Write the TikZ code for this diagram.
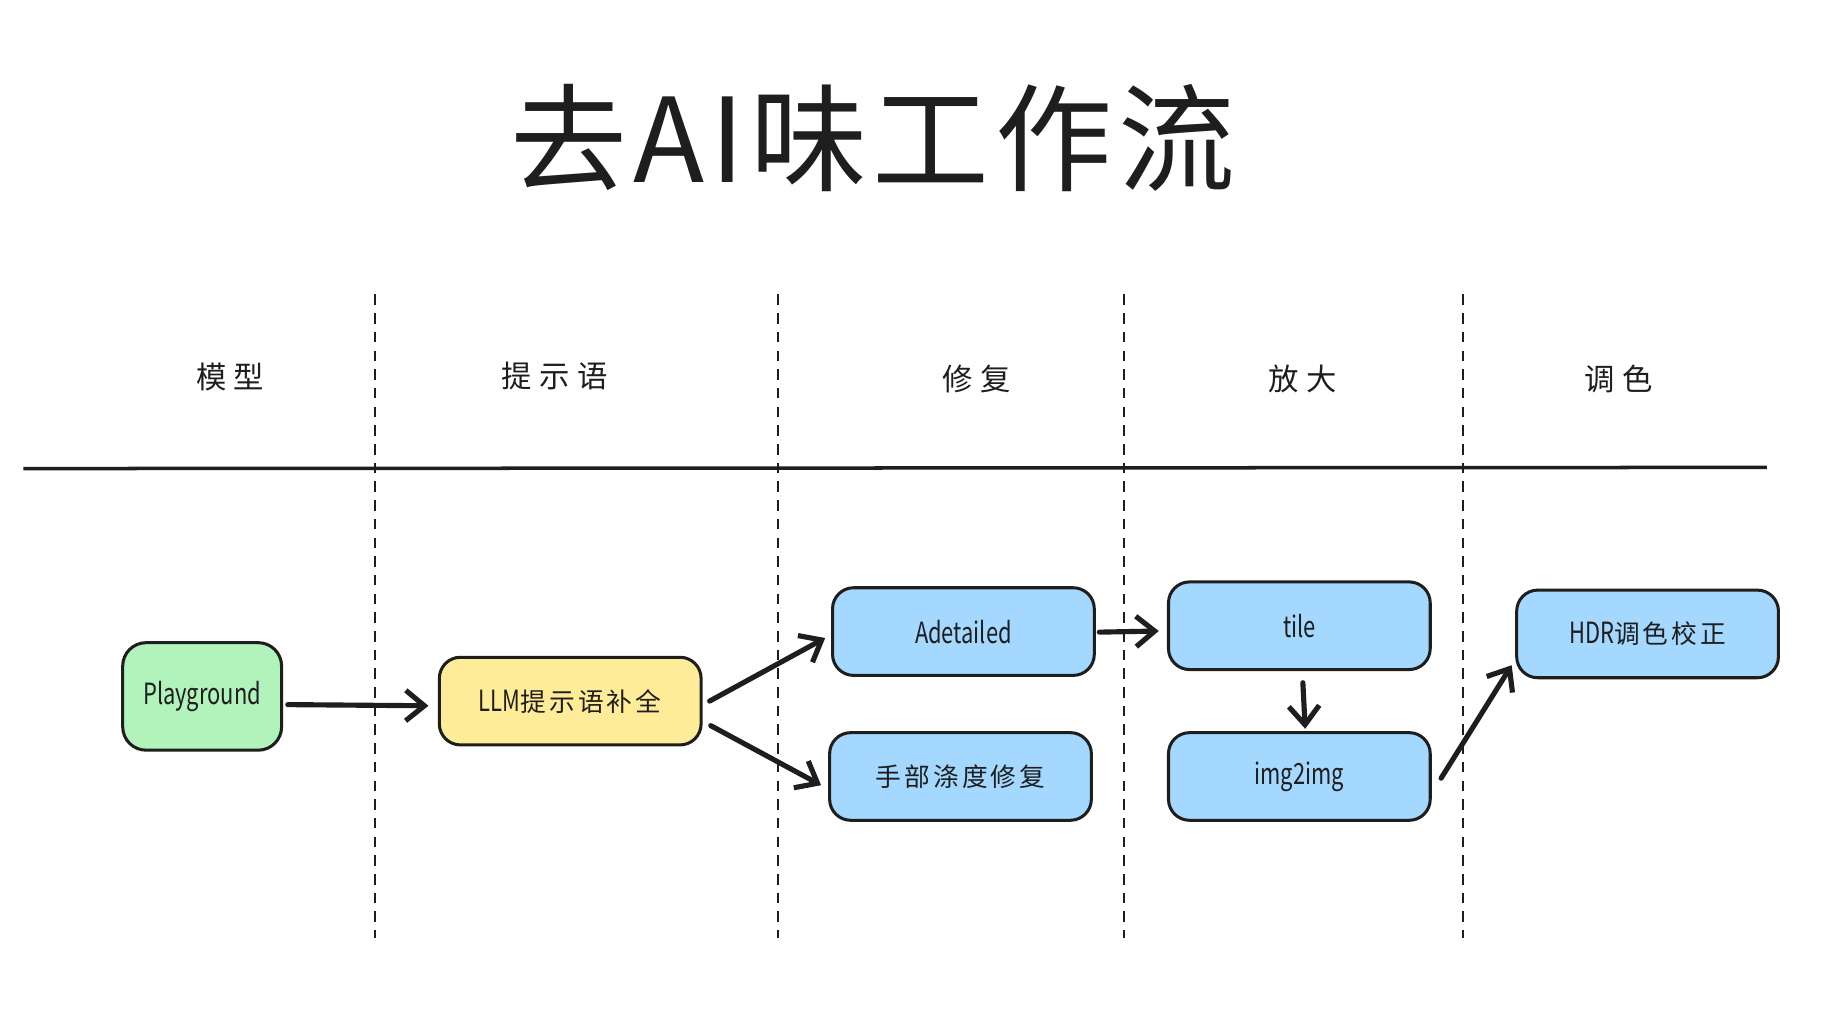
\documentclass[tikz,border=0pt]{standalone}
\usepackage{fontspec}
\usetikzlibrary{arrows.meta}
\newfontfamily\titlefont[LetterSpace=5]{Noto Sans CJK SC}
\newfontfamily\headfont[LetterSpace=25]{Noto Sans CJK SC}
\newfontfamily\cjkbox[LetterSpace=12]{Noto Sans CJK SC}
\newfontfamily\latbox[FakeStretch=0.75]{Noto Sans CJK SC}
\newcommand\LatT[1]{{\latbox\fontsize{12.5pt}{14pt}\selectfont #1}}
\newcommand\CjkT[1]{{\cjkbox\fontsize{11pt}{13pt}\selectfont #1}}
\definecolor{ink}{HTML}{1E1E1E}
\definecolor{fgreen}{HTML}{B2F2BB}
\definecolor{fyellow}{HTML}{FFEC99}
\definecolor{fblue}{HTML}{A5D8FF}
\begin{document}
\begin{tikzpicture}[x=0.5pt,y=-0.5pt,
  card/.style={draw=ink, line width=1.3pt, rounded corners=9pt, inner sep=0pt,
    minimum width=112pt, minimum height=37.5pt, text=ink},
  arr/.style={draw=ink, line width=2.2pt, line cap=round, line join=round,
    -{Straight Barb[length=8pt,width=13pt]}},
  head/.style={text=ink, font=\headfont\fontsize{13pt}{15pt}\selectfont},
  sep/.style={draw=ink, line width=1pt, dash pattern=on 4.5pt off 3.5pt}]
\useasboundingbox[fill=white] (0,0) rectangle (1567,868.6);

\node[text=ink, font=\titlefont\fontsize{50pt}{58pt}\selectfont] (title) at (747,118) {去AI味工作流};

\node[head] (h1) at (197,323) {模型};
\node[head] (h2) at (475,322) {提示语};
\node[head] (h3) at (836,324) {修复};
\node[head] (h4) at (1115,324) {放大};
\node[head] (h5) at (1385,324) {调色};

\draw[sep] (321,252) -- (321,803);
\draw[sep] (666,252) -- (666,803);
\draw[sep] (962,252) -- (962,803);
\draw[sep] (1252,252) -- (1252,803);

\draw[ink, line width=1.5pt] (20,401) -- (1512,400);

\node[card, fill=fgreen, minimum width=68pt, minimum height=46pt, rounded corners=10pt] (pg) at (173,596) {\LatT{Playground}};
\node[card, fill=fyellow] (llm) at (488,600) {\LatT{LLM}\CjkT{提示语补全}};
\node[card, fill=fblue] (ad) at (824.5,540.5) {\LatT{Adetailed}};
\node[card, fill=fblue] (hand) at (822,664.5) {\CjkT{手部涤度修复}};
\node[card, fill=fblue] (tile) at (1112,535.5) {\LatT{tile}};
\node[card, fill=fblue] (i2i) at (1112,664.5) {\LatT{img2img}};
\node[card, fill=fblue] (hdr) at (1410,542.5) {\LatT{HDR}\CjkT{调色校正}};

\draw[arr] ([shift={(4,7)}]pg.east) -- ([shift={(-8,4)}]llm.west);
\draw[arr] ([shift={(6,0)}]llm.east) -- ([shift={(-5,5.5)}]ad.west);
\draw[arr] ([shift={(7,21)}]llm.east) -- ([shift={(-6,7.5)}]hand.west);
\draw[arr] ([shift={(3,0.5)}]ad.east) -- ([shift={(-7,4.5)}]tile.west);
\draw[arr] ([shift={(3,10)}]tile.south) -- ([shift={(5,-2)}]i2i.north);
\draw[arr] ([shift={(8,1.5)}]i2i.east) -- ([shift={(-3,-12)}]hdr.south west);
\end{tikzpicture}
\end{document}
